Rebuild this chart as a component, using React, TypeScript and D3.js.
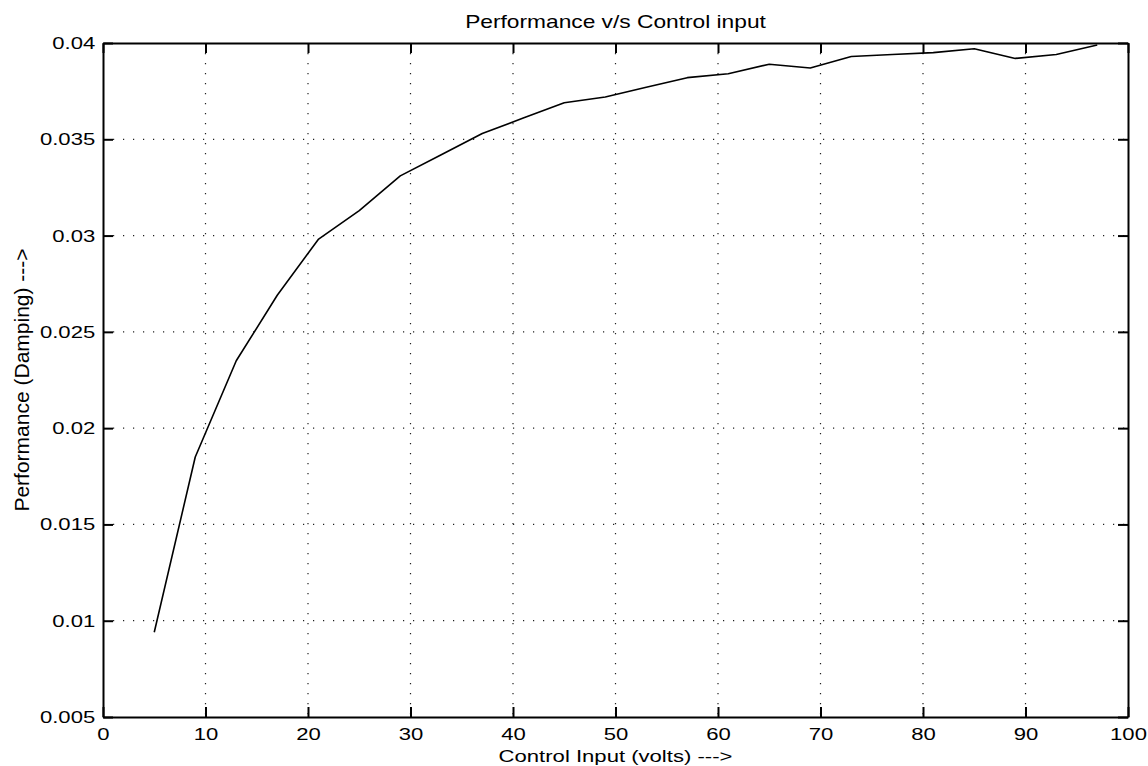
import * as d3 from 'd3';
import React, { useRef, useEffect } from 'react';

const controlInput = [5, 9, 13, 17, 21, 25, 29, 33, 37, 41, 45, 49, 53, 57, 61, 65, 69, 73, 77, 81, 85, 89, 93, 97];
const damping = [
  0.0094, 0.0185, 0.0235, 0.0269, 0.0298, 0.0313, 0.0331, 0.0342,
  0.0353, 0.0361, 0.0369, 0.0372, 0.0377, 0.0382, 0.0384, 0.0389,
  0.0387, 0.0393, 0.0394, 0.0395, 0.0397, 0.0392, 0.0394, 0.0399
];

const xTicks = [0, 10, 20, 30, 40, 50, 60, 70, 80, 90, 100];
const yTicks = [0.005, 0.01, 0.015, 0.02, 0.025, 0.03, 0.035, 0.04];
const yTickLabels = ['0.005', '0.01', '0.015', '0.02', '0.025', '0.03', '0.035', '0.04'];

const FONT = '"Liberation Sans", Arial, Helvetica, sans-serif';
const STRETCH = 1.3; // the scanned text is wider than it is tall

const Chart = () => {
  const ref = useRef(null);

  useEffect(() => {
    const W = 1148;
    const H = 766;
    const margin = { top: 43, right: 20, bottom: 49, left: 103 };
    const width = W - margin.left - margin.right;
    const height = H - margin.top - margin.bottom;

    const root = d3.select(ref.current)
      .attr('width', W)
      .attr('height', H);

    const svg = root.append('g')
      .attr('transform', `translate(${margin.left},${margin.top})`);

    const x = d3.scaleLinear().domain([0, 100]).range([0, width]);
    const y = d3.scaleLinear().domain([0.005, 0.04]).range([height, 0]);

    // dotted grid
    const grid = svg.append('g')
      .attr('stroke', '#222')
      .attr('stroke-width', 1.2)
      .attr('stroke-dasharray', '1.2,8.8');
    grid.selectAll('line.gx')
      .data(xTicks.slice(1, -1))
      .enter().append('line')
      .attr('x1', d => x(d)).attr('x2', d => x(d))
      .attr('y1', 0).attr('y2', height);
    grid.selectAll('line.gy')
      .data(yTicks.slice(1, -1))
      .enter().append('line')
      .attr('x1', 0).attr('x2', width)
      .attr('y1', d => y(d)).attr('y2', d => y(d));

    const styleAxis = g => {
      g.attr('font-family', FONT).attr('font-size', 17);
      g.selectAll('path.domain').attr('stroke', '#000').attr('stroke-width', 2);
      g.selectAll('.tick line').attr('stroke', '#000').attr('stroke-width', 2);
      g.selectAll('.tick text').attr('fill', '#000');
    };

    svg.append('g')
      .attr('transform', `translate(0,${height})`)
      .call(d3.axisBottom(x).tickValues(xTicks).tickSize(-10).tickSizeOuter(0).tickPadding(11).tickFormat(d3.format('d')))
      .call(styleAxis)
      .selectAll('.tick text')
      .attr('transform', `scale(${STRETCH},1)`);

    svg.append('g')
      .call(d3.axisLeft(y).tickValues(yTicks).tickSize(-10).tickSizeOuter(0).tickPadding(6).tickFormat((d, i) => yTickLabels[i]))
      .call(styleAxis)
      .selectAll('.tick text')
      .attr('transform', `scale(${STRETCH},1)`);

    svg.append('g')
      .call(d3.axisTop(x).tickValues(xTicks).tickSize(-10).tickSizeOuter(0).tickFormat(() => ''))
      .call(styleAxis);

    svg.append('g')
      .attr('transform', `translate(${width},0)`)
      .call(d3.axisRight(y).tickValues(yTicks).tickSize(-10).tickSizeOuter(0).tickFormat(() => ''))
      .call(styleAxis);

    // data line
    const line = d3.line()
      .x((d, i) => x(controlInput[i]))
      .y(d => y(d));

    svg.append('path')
      .datum(damping)
      .attr('d', line)
      .attr('fill', 'none')
      .attr('stroke', '#000')
      .attr('stroke-width', 1.6)
      .attr('stroke-linejoin', 'round');

    // title and axis labels
    root.append('text')
      .attr('transform', `translate(${margin.left + width / 2},28) scale(${STRETCH},1)`)
      .attr('text-anchor', 'middle')
      .attr('font-family', FONT)
      .attr('font-size', 17.5)
      .text('Performance v/s Control input');

    root.append('text')
      .attr('transform', `translate(${margin.left + width / 2},762) scale(${STRETCH},1)`)
      .attr('text-anchor', 'middle')
      .attr('font-family', FONT)
      .attr('font-size', 17)
      .text('Control Input (volts) --->');

    root.append('text')
      .attr('transform', `translate(29,${margin.top + height / 2}) rotate(-90)`)
      .attr('text-anchor', 'middle')
      .attr('font-family', FONT)
      .attr('font-size', 21)
      .text('Performance (Damping) --->');

    return () => {
      root.selectAll('*').remove();
    };
  }, []);

  return <svg ref={ref} style={{ position: 'absolute', left: 0, top: 0, background: '#fff' }}></svg>;
};

export default function App() {
  return <Chart />;
}
